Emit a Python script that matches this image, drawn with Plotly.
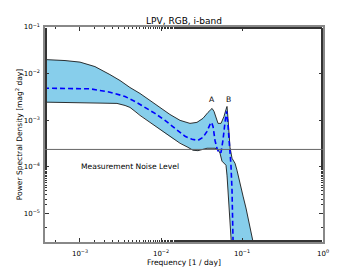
import math
import plotly.graph_objects as go

# Upper edge of the credible band
upper_f = [3.6e-4, 6.53e-4, 1.0e-3, 1.53e-3, 2.34e-3, 3.12e-3, 4.14e-3, 5.51e-3, 7.31e-3, 9.72e-3,
           1.29e-2, 1.72e-2, 2.28e-2, 2.78e-2, 3.30e-2, 3.80e-2, 4.27e-2, 4.51e-2, 4.77e-2, 5.06e-2,
           5.51e-2, 6.00e-2, 6.34e-2, 6.53e-2, 6.72e-2, 6.92e-2, 7.11e-2, 7.53e-2, 8.20e-2, 8.67e-2,
           8.93e-2, 9.44e-2, 0.103, 0.112, 0.122, 0.133, 0.145]
upper_p = [2.00e-2, 1.90e-2, 1.76e-2, 1.41e-2, 9.5e-3, 7.08e-3, 5.01e-3, 3.73e-3, 2.64e-3, 1.87e-3,
           1.32e-3, 9.86e-4, 8.49e-4, 8.93e-4, 1.09e-3, 1.46e-3, 1.78e-3, 1.54e-3, 1.09e-3, 8.49e-4,
           8.49e-4, 1.20e-3, 1.69e-3, 1.96e-3, 1.09e-3, 4.70e-4, 2.60e-4, 1.51e-4, 1.18e-4, 8.37e-5,
           6.55e-5, 4.41e-5, 2.32e-5, 1.29e-5, 6.45e-6, 3.40e-6, 1.5e-6]

# Lower edge of the credible band
lower_f = [3.6e-4, 1.0e-3, 1.77e-3, 2.86e-3, 3.60e-3, 4.14e-3, 4.78e-3, 5.51e-3, 7.31e-3, 8.93e-3,
           1.12e-2, 1.37e-2, 1.72e-2, 2.15e-2, 2.48e-2, 2.86e-2, 3.21e-2, 3.70e-2, 4.27e-2, 4.64e-2,
           5.06e-2, 5.35e-2, 5.66e-2, 6.00e-2, 6.34e-2, 6.53e-2, 6.72e-2, 6.92e-2, 7.11e-2, 7.31e-2, 7.5e-2]
lower_p = [2.43e-3, 2.39e-3, 2.33e-3, 2.28e-3, 2.06e-3, 1.87e-3, 1.54e-3, 1.26e-3, 8.93e-4, 6.98e-4,
           5.19e-4, 4.06e-4, 3.17e-4, 2.60e-4, 2.25e-4, 2.20e-4, 2.36e-4, 2.48e-4, 2.48e-4, 2.48e-4,
           2.36e-4, 1.94e-4, 1.31e-4, 1.18e-4, 1.07e-4, 6.55e-5, 3.12e-5, 1.49e-5, 7.11e-6, 3.94e-6, 1.5e-6]

# Median PSD (dashed)
median_f = [3.6e-4, 7.53e-4, 1.33e-3, 2.34e-3, 3.60e-3, 4.78e-3, 6.34e-3, 8.43e-3, 1.12e-2, 1.49e-2,
            1.98e-2, 2.42e-2, 2.86e-2, 3.30e-2, 3.70e-2, 4.03e-2, 4.20e-2, 4.39e-2, 4.64e-2, 4.91e-2,
            5.20e-2, 5.51e-2, 5.82e-2, 6.17e-2, 6.44e-2, 6.72e-2, 7.02e-2, 7.31e-2, 7.53e-2, 7.67e-2, 7.8e-2]
median_p = [4.84e-3, 4.77e-3, 4.70e-3, 3.98e-3, 3.22e-3, 2.51e-3, 1.87e-3, 1.39e-3, 9.86e-4, 6.64e-4,
            4.48e-4, 3.86e-4, 3.67e-4, 4.26e-4, 5.73e-4, 8.09e-4, 8.93e-4, 7.33e-4, 3.67e-4, 2.48e-4,
            1.94e-4, 2.03e-4, 3.67e-4, 8.93e-4, 1.54e-3, 7.70e-4, 2.87e-4, 1.07e-4, 3.12e-5, 9.1e-6, 1.5e-6]

noise_level = 2.34e-4
noise_label = "Measurement Noise Level"
noise_label_f = 0.97e-3
noise_label_p = 1.02e-4

peak_labels = ["A", "B"]
peak_f = [4.3e-2, 6.8e-2]
peak_p = [2.75e-3, 2.75e-3]

x_tickvals = [1e-3, 1e-2, 1e-1, 1e0]
x_ticktext = ["10<sup>\u22123</sup>", "10<sup>\u22122</sup>", "10<sup>\u22121</sup>", "10<sup>0</sup>"]
y_tickvals = [1e-5, 1e-4, 1e-3, 1e-2, 1e-1]
y_ticktext = ["10<sup>\u22125</sup>", "10<sup>\u22124</sup>", "10<sup>\u22123</sup>", "10<sup>\u22122</sup>", "10<sup>\u22121</sup>"]

FONT = "DejaVu Sans"
W, H = 352, 262  # page body has an 8px margin

fig = go.Figure()

poly_f = upper_f + lower_f[::-1]
poly_p = upper_p + lower_p[::-1]
fig.add_trace(go.Scatter(x=poly_f, y=poly_p, mode="lines", fill="toself",
                         fillcolor="#87CEEB", line=dict(color="#87CEEB", width=0),
                         hoverinfo="skip", showlegend=False))
fig.add_trace(go.Scatter(x=upper_f, y=upper_p, mode="lines",
                         line=dict(color="#1a1a1a", width=0.9), showlegend=False))
fig.add_trace(go.Scatter(x=lower_f, y=lower_p, mode="lines",
                         line=dict(color="#1a1a1a", width=0.9), showlegend=False))
fig.add_trace(go.Scatter(x=median_f, y=median_p, mode="lines",
                         line=dict(color="#0000FF", width=1.6, dash="5px,3px"), showlegend=False))

fig.add_hline(y=noise_level, line=dict(color="#666666", width=1))

fig.add_annotation(x=math.log10(noise_label_f), y=math.log10(noise_label_p), xref="x", yref="y",
                   text=noise_label, showarrow=False, xanchor="left", yanchor="middle",
                   font=dict(family=FONT, size=7.6, color="black"))
for lab, f, p in zip(peak_labels, peak_f, peak_p):
    fig.add_annotation(x=math.log10(f), y=math.log10(p), xref="x", yref="y", text=lab,
                       showarrow=False, xanchor="center", yanchor="middle",
                       font=dict(family=FONT, size=7.6, color="black"))

fig.update_layout(
    width=W, height=H,
    margin=dict(l=37, r=37, t=19, b=28, pad=0),
    paper_bgcolor="white", plot_bgcolor="white",
    font=dict(family=FONT, size=7, color="black"),
    title=dict(text="LPV, RGB, i-band", x=0.5, xanchor="center", xref="paper",
               y=1 - 13 / H, yanchor="middle", font=dict(family=FONT, size=9)),
    showlegend=False,
)
fig.update_xaxes(type="log", range=[-3.432, 0], tickvals=x_tickvals, ticktext=x_ticktext,
                 automargin=False, ticklabelstandoff=4,
                 showgrid=False, zeroline=False, showline=True, linecolor="#888888", linewidth=1.5,
                 mirror="allticks", ticks="inside", ticklen=4, tickcolor="#333333", tickwidth=1,
                 minor=dict(ticks="inside", ticklen=2, tickcolor="#333333", tickwidth=1, showgrid=False),
                 tickfont=dict(family=FONT, size=7),
                 title=dict(text="Frequency [1 / day]", font=dict(family=FONT, size=7.6), standoff=2))
fig.update_yaxes(type="log", range=[-5.62, -1], tickvals=y_tickvals, ticktext=y_ticktext,
                 automargin=False, ticklabelstandoff=2,
                 showgrid=False, zeroline=False, showline=True, linecolor="#888888", linewidth=1.5,
                 mirror="allticks", ticks="inside", ticklen=4, tickcolor="#333333", tickwidth=1,
                 minor=dict(ticks="inside", ticklen=2, tickcolor="#333333", tickwidth=1, showgrid=False),
                 tickfont=dict(family=FONT, size=7),
                 title=dict(text="Power Spectral Density [mag<sup>2</sup> day]",
                            font=dict(family=FONT, size=7.5), standoff=0))

fig.write_html("out.html")
